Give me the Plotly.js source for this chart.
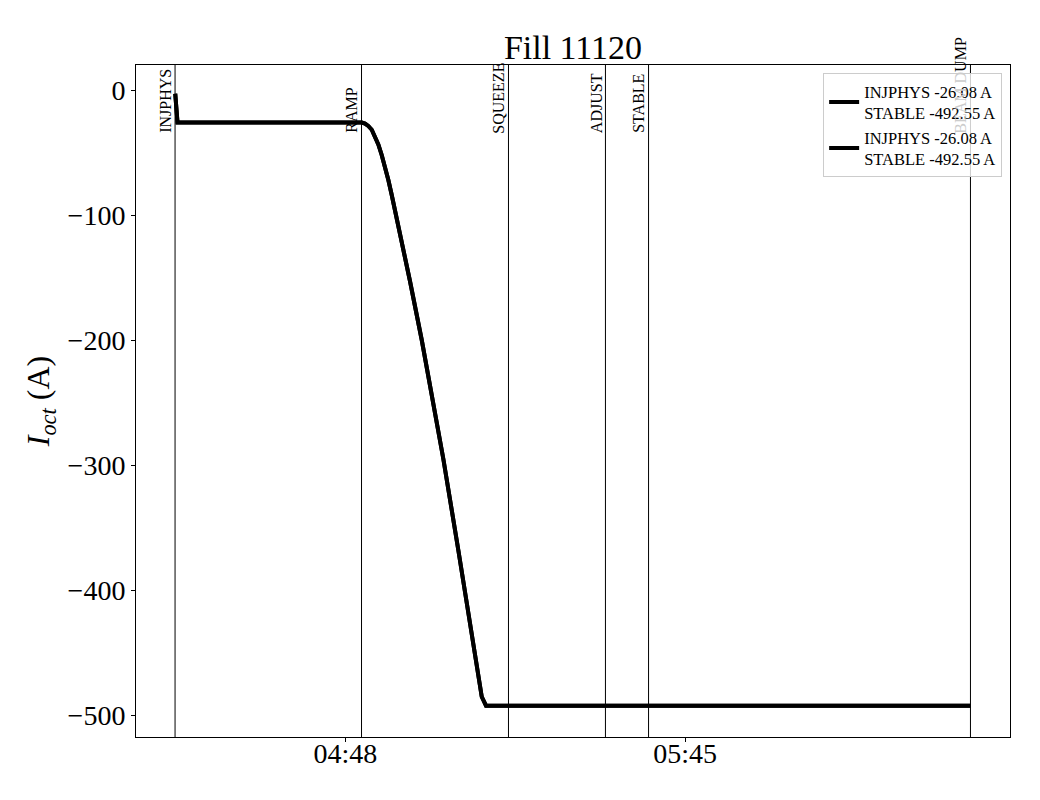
<!DOCTYPE html>
<html>
<head>
<meta charset="utf-8">
<script src="https://cdn.plot.ly/plotly-3.0.1.min.js"></script>
<style>html,body{margin:0;padding:0;background:#fff;}#chart{width:1040px;height:800px;}</style>
</head>
<body>
<div id="chart"></div>
<script>
const day = '2025-01-01 ';
const times = ['04:19:27','04:19:50','04:30:00','04:40:00','04:50:44','04:51:17','04:51:50','04:52:25','04:52:58','04:53:31','04:54:05','04:54:38','04:55:12','04:55:46','04:56:19','04:57:10','04:58:50','05:00:48','05:02:45','05:04:25','05:06:56','05:09:11','05:10:52','05:11:35','05:30:00','06:00:00','06:32:51'];
const current = [-3,-26.08,-26.08,-26.08,-26.08,-26.9,-28.8,-31.8,-36.8,-43.5,-52,-61.4,-72,-84,-96,-114.6,-153,-200,-249,-295,-368,-436,-485.4,-492.55,-492.55,-492.55,-492.55];
const legendName = 'INJPHYS -26.08 A<br>STABLE -492.55 A';
const modeNames = ['INJPHYS','RAMP','SQUEEZE','ADJUST','STABLE','BEAM DUMP'];
const modeTimes = ['04:19:25','04:50:42','05:15:21','05:31:37','05:38:51','06:32:51'];
const xRange = ['04:12:52','06:39:29'];
const yRange = [-517.6, 20];
const xTickVals = ['04:48','05:45'];
const xTickText = ['04:48','05:45'];
const yTickVals = [0,-100,-200,-300,-400,-500];

const xs = times.map(t => day + t);
const serif = 'Liberation Serif, Times New Roman, serif';

const traces = [0,1].map(() => ({
  x: xs, y: current, type: 'scatter', mode: 'lines',
  name: legendName,
  line: {color: 'black', width: 4}
}));

const shapes = modeTimes.map(t => ({
  type: 'line', xref: 'x', yref: 'paper',
  x0: day + t, x1: day + t, y0: 0, y1: 1,
  line: {color: 'black', width: 1}
}));

const annotations = modeNames.map((n, i) => ({
  text: n === 'BEAM DUMP' ? '<span style="color:#cccccc">BEAM D</span>UMP' : n,
  xref: 'x', yref: 'paper',
  x: day + modeTimes[i], y: 0.897,
  xanchor: 'right', yanchor: 'bottom',
  textangle: -90, showarrow: false,
  font: {family: serif, size: 16, color: 'black'},
  borderpad: 0
}));

const layout = {
  width: 1040, height: 800,
  paper_bgcolor: 'white', plot_bgcolor: 'white',
  margin: {l: 136, r: 30, t: 65, b: 63},
  title: {text: 'Fill 11120', font: {family: serif, size: 34, color: 'black'},
          x: 0.5, xref: 'paper', y: 0.941, yref: 'container', yanchor: 'middle'},
  font: {family: serif, color: 'black'},
  showlegend: true,
  legend: {
    x: 0.991, y: 0.988, xanchor: 'right', yanchor: 'top',
    bgcolor: 'rgba(255,255,255,0.8)', bordercolor: '#cccccc', borderwidth: 1,
    font: {family: serif, size: 16.5, color: 'black'}
  },
  xaxis: {
    type: 'date', range: xRange.map(t => day + t),
    tickvals: xTickVals.map(t => day + t), ticktext: xTickText,
    ticks: 'outside', ticklen: 4, tickcolor: 'black',
    tickfont: {family: serif, size: 28, color: 'black'},
    ticklabelstandoff: -13,
    showline: true, mirror: true, linecolor: 'black', linewidth: 1,
    showgrid: false, zeroline: false
  },
  yaxis: {
    range: yRange, tickvals: yTickVals,
    ticks: 'outside', ticklen: 4, tickcolor: 'black',
    tickfont: {family: serif, size: 28, color: 'black'},
    showline: true, mirror: true, linecolor: 'black', linewidth: 1,
    showgrid: false, zeroline: false,
    title: {text: '<i>I</i><sub><i>oct</i></sub> (A)', font: {family: serif, size: 32, color: 'black'}, standoff: 8}
  },
  shapes: shapes,
  annotations: annotations
};

Plotly.newPlot('chart', traces, layout, {displayModeBar: false, staticPlot: true});
</script>
</body>
</html>
